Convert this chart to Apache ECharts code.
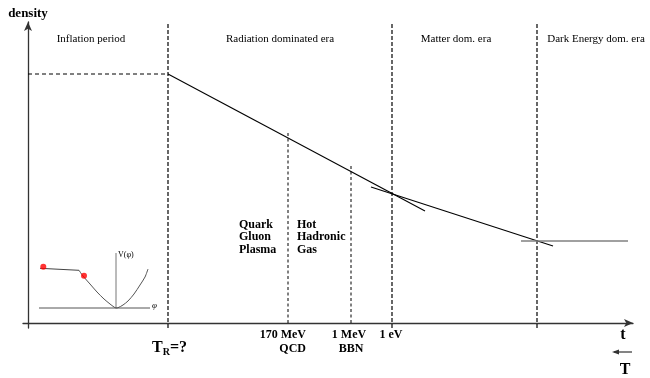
<!DOCTYPE html>
<html>
<head>
<meta charset="utf-8">
<script src="https://cdn.jsdelivr.net/npm/echarts@6/dist/echarts.min.js"></script>
<style>html,body{margin:0;padding:0;background:#fff}#c{width:650px;height:378px}</style>
</head>
<body>
<div id="c"></div>
<script>
// ---- schematic data (t = time axis units, d = density axis units) ----
const eraNames = ['Inflation period', 'Radiation dominated era', 'Matter dom. era', 'Dark Energy dom. era'];
const eraBounds = [140, 364, 509];
const eraLabelT = [63, 252, 428, 568];
const inflationLevel = [[0, 249], [140, 249]];
const radiationLine = [[140, 249], [397, 112]];
const matterLine = [[343, 136], [525, 77]];
const darkEnergyLine = [[493, 82], [600, 82]];
const transitionT = [260, 323];
const transitionTop = [190, 158];
const tickLabels = ['170 MeV', '1 MeV'];
const transitionNames = ['QCD', 'BBN'];
const phaseNames = ['Quark\nGluon\nPlasma', 'Hot\nHadronic\nGas'];
const phaseLabelT = [211, 269];
const eqTick = { t: 364, label: '1 eV' };
// inset: inflaton potential V(phi)
const potPlateau = [[12, 54.7], [51, 52.7]];
const potCurve = [[51, 52.7], [55, 47], [62, 39], [69, 31], [76, 24], [82, 19], [86, 16], [88, 15],
  [90, 15.3], [95, 18], [100, 22], [106, 29], [112, 38], [117, 46], [120, 54]];
const potVAxis = [[88, 15], [88, 70]];
const potPhiAxis = [[11, 15], [122, 15]];
const inflatonDots = [[15.3, 56.3], [56, 47.3]];

const chart = echarts.init(document.getElementById('c'), null, { renderer: 'canvas' });
const serif = '"Liberation Serif", "DejaVu Serif", serif';

function lineSeries(data, style, z) {
  return { type: 'line', data: data, symbol: 'none', silent: true, animation: false, z: z || 2,
    lineStyle: Object.assign({ color: '#000', width: 1 }, style) };
}

const series = [];
eraBounds.forEach(b => series.push(lineSeries([[b, -5], [b, 301]], { type: [4, 2], width: 1.2 })));
transitionT.forEach((t, i) => series.push(lineSeries([[t, 0], [t, transitionTop[i]]], { type: [3, 2.5], width: 1, color: '#000' })));
series.push(lineSeries(inflationLevel, { type: [4, 3], width: 1 }));
series.push(lineSeries(radiationLine, { width: 1.1 }));
series.push(lineSeries(matterLine, { width: 1.1 }));
series.push(lineSeries(darkEnergyLine, { width: 1.3, color: '#808080' }));
series.push(lineSeries(potVAxis, { width: 1, color: '#777' }));
series.push(lineSeries(potPhiAxis, { width: 1, color: '#555' }));
series.push(lineSeries(potPlateau, { width: 1, color: '#444' }));
series.push(Object.assign(lineSeries(potCurve, { width: 1, color: '#555' }), { smooth: 0.3 }));
series.push({ type: 'scatter', data: inflatonDots, symbolSize: 6, itemStyle: { color: '#ff0000' }, silent: true, animation: false, z: 5 });

const axisCommon = {
  type: 'value',
  axisLine: { show: true, onZero: true, symbol: ['none', 'arrow'], symbolSize: [6, 9], lineStyle: { color: '#333', width: 1.3 } },
  axisTick: { show: false }, axisLabel: { show: false }, splitLine: { show: false }
};

chart.setOption({
  backgroundColor: '#fff',
  animation: false,
  grid: { left: 23, right: 17, top: 22, bottom: 50 },
  xAxis: Object.assign({}, axisCommon, { min: -5, max: 605 }),
  yAxis: Object.assign({}, axisCommon, { min: -5, max: 301 }),
  series: series
});

function px(p) { return chart.convertToPixel({ gridIndex: 0 }, p); }
function text(p, str, font, align, vAlign, extra) {
  const q = px(p);
  return { type: 'text', x: q[0], y: q[1], silent: true,
    style: Object.assign({ text: str, font: font, fill: '#000', textAlign: align || 'center', textVerticalAlign: vAlign || 'middle' }, extra || {}) };
}

const g = [];
eraNames.forEach((n, i) => g.push(text([eraLabelT[i], 284], n, '11px ' + serif)));
g.push({ type: 'text', x: 28, y: 14, silent: true, style: { text: 'density', font: 'bold 13px ' + serif, fill: '#000', textAlign: 'center', textVerticalAlign: 'middle' } });
phaseNames.forEach((p, i) => g.push(text([phaseLabelT[i], 86], p, 'bold 12px ' + serif, 'left', 'middle', { lineHeight: 12.5 })));
g.push(text([transitionT[0] + 18, -12], tickLabels[0], 'bold 12px ' + serif, 'right', 'middle'));
g.push(text([transitionT[0] + 18, -26], transitionNames[0], 'bold 12px ' + serif, 'right', 'middle'));
g.push(text([transitionT[1] - 2, -12], tickLabels[1], 'bold 12px ' + serif, 'center', 'middle'));
g.push(text([transitionT[1], -26], transitionNames[1], 'bold 12px ' + serif, 'center', 'middle'));
g.push(text([eqTick.t - 1, -12], eqTick.label, 'bold 12px ' + serif, 'center', 'middle'));
g.push(text([eraBounds[0] - 16, -25], '{a|T}{b|R}{a|=?}', 'bold 16px ' + serif, 'left', 'middle',
  { rich: { a: { font: 'bold 16px ' + serif, fill: '#000' }, b: { font: 'bold 10px ' + serif, fill: '#000', padding: [8, 0, 0, 0] } } }));
g.push(text([595, -12], 't', 'bold 16px ' + serif, 'center', 'middle'));
g.push(text([597, -47], 'T', 'bold 16px ' + serif, 'center', 'middle'));
// small T-direction arrow
const a0 = px([604, -29]), a1 = px([584, -29]);
g.push({ type: 'line', silent: true, shape: { x1: a0[0], y1: a0[1], x2: a1[0] + 2, y2: a1[1] }, style: { stroke: '#333', lineWidth: 1.2 } });
g.push({ type: 'polygon', silent: true, shape: { points: [[a1[0], a1[1]], [a1[0] + 7, a1[1] - 2.5], [a1[0] + 7, a1[1] + 2.5]] }, style: { fill: '#333' } });
g.push(text([90, 68], 'V(φ)', '8px ' + serif, 'left', 'middle'));
g.push(text([124, 17], 'φ', 'italic 9px ' + serif, 'left', 'middle'));

chart.setOption({ graphic: g });
</script>
</body>
</html>
